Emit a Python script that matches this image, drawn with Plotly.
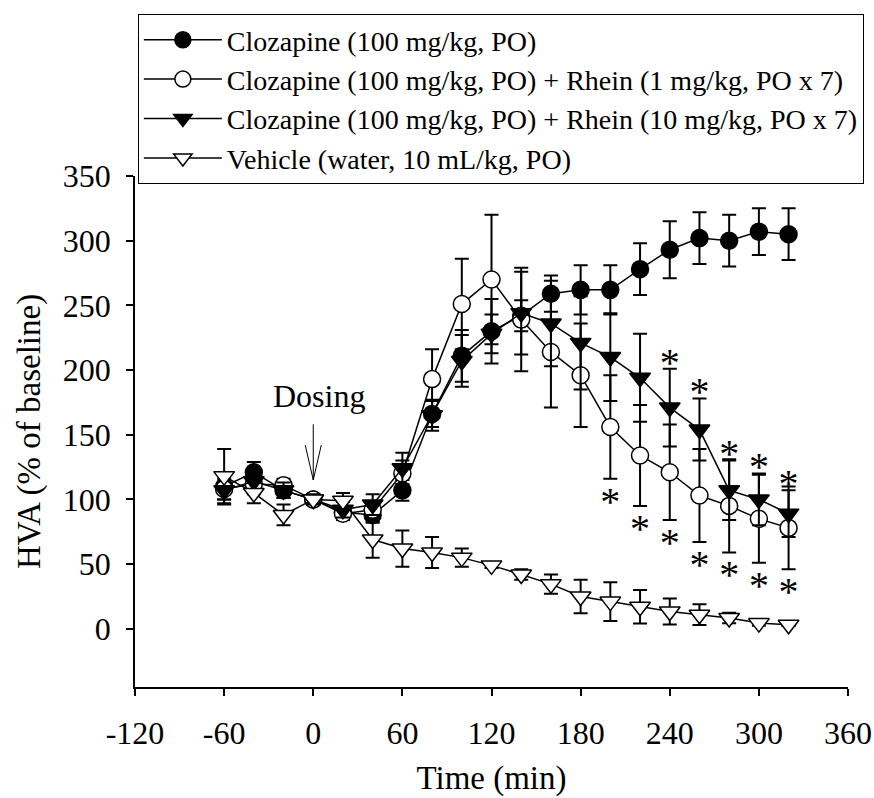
import plotly.graph_objects as go

# ---------------- data ----------------
time_min = [-60, -40, -20, 0, 20, 40, 60, 80, 100, 120, 140, 160, 180, 200, 220, 240, 260, 280, 300, 320]

clz = [110, 121, 107, 100, 90, 88, 107, 166, 211, 230, 242, 259, 262, 262, 278, 293, 302, 300, 307, 305]
clz_err = [10, 8, 6, 4, 5, 6, 8, 10, 20, 25, 12, 14, 19, 19, 20, 22, 20, 20, 18, 20]

rh1 = [108, 112, 111, 100, 89, 92, 120, 193, 251, 270, 239, 214, 196, 156, 134, 121, 103, 95, 85, 78]
rh1_err = [8, 8, 5, 4, 5, 6, 10, 23, 35, 50, 40, 43, 40, 40, 39, 37, 36, 36, 34, 32]

rh10 = [107, 114, 107, 100, 92, 96, 124, 165, 207, 228, 244, 236, 221, 210, 194, 171, 154, 107, 100, 89]
rh10_err = [11, 8, 6, 4, 6, 8, 12, 12, 20, 15, 32, 33, 36, 34, 34, 30, 24, 23, 20, 18]

veh = [118, 105, 88, 100, 99, 69, 62, 59, 55, 49, 42, 34.5, 25, 21, 17, 13.4, 10.9, 8.3, 4.4, 3.1]
veh_err = [21, 8, 8, 3, 6, 14, 14, 12, 7, 2, 4, 7.5, 13, 15, 13, 10, 8, 4, 2, 1]

names = [
    "Clozapine (100 mg/kg, PO)",
    "Clozapine (100 mg/kg, PO) + Rhein (1 mg/kg, PO x 7)",
    "Clozapine (100 mg/kg, PO) + Rhein (10 mg/kg, PO x 7)",
    "Vehicle (water, 10 mL/kg, PO)",
]

# significance stars: above Rhein 10 bars, below Rhein 1 bars
star_up_times = [240, 260, 280, 300, 320]
star_dn_times = [200, 220, 240, 260, 280, 300, 320]

x_ticks = [-120, -60, 0, 60, 120, 180, 240, 300, 360]
x_labels = ["-120", "-60", "0", "60", "120", "180", "240", "300", "360"]
y_ticks = [0, 50, 100, 150, 200, 250, 300, 350]
y_labels = ["0", "50", "100", "150", "200", "250", "300", "350"]

# ---------------- figure ----------------
FONT = "Liberation Serif, Times New Roman, serif"
fig = go.Figure()

styles = [
    dict(symbol="circle", size=17, color="black"),
    dict(symbol="circle", size=17, color="white"),
    dict(symbol="triangle-down", size=18, color="black"),
    dict(symbol="triangle-down", size=18, color="white"),
]
series = [(clz, clz_err), (rh1, rh1_err), (rh10, rh10_err), (veh, veh_err)]

for (vals, errs), st, nm in zip(series, styles, names):
    fig.add_trace(go.Scatter(
        x=time_min, y=vals, name=nm, mode="lines+markers",
        line=dict(color="black", width=1.5),
        marker=dict(symbol=st["symbol"], size=st["size"], color=st["color"],
                    line=dict(color="black", width=1.5)),
        error_y=dict(type="data", array=errs, color="black", thickness=2, width=7),
    ))

idx = {t: i for i, t in enumerate(time_min)}
up_y = [rh10[idx[t]] + rh10_err[idx[t]] + 2.5 for t in star_up_times]
dn_y = [rh1[idx[t]] - rh1_err[idx[t]] - 20 for t in star_dn_times]

for xs, ys in ((star_up_times, up_y), (star_dn_times, dn_y)):
    fig.add_trace(go.Scatter(
        x=xs, y=ys, mode="text", text=["*"] * len(xs), showlegend=False,
        textposition="middle center",
        textfont=dict(family=FONT, size=40, color="black"), hoverinfo="skip",
    ))

# Dosing arrow (open V head)
fig.add_shape(type="line", xref="x", yref="y", x0=0, x1=0, y0=158, y1=115,
              line=dict(color="black", width=1))
fig.add_shape(type="path", xref="x", yref="y", path="M -5.4,142 L 0,115 L 5.4,142",
              line=dict(color="black", width=1))
fig.add_annotation(x=4, y=180, xref="x", yref="y", text="Dosing", showarrow=False,
                   font=dict(family=FONT, size=32, color="black"))

axis_common = dict(
    showline=True, linecolor="black", linewidth=1.5, ticks="outside", ticklen=7,
    tickwidth=1.5, tickcolor="black", showgrid=False, zeroline=False, mirror=False,
    tickfont=dict(family=FONT, size=32, color="black"),
)

fig.update_layout(
    width=874, height=798,
    margin=dict(l=135, r=26, t=176, b=111, autoexpand=False),
    paper_bgcolor="white", plot_bgcolor="white",
    font=dict(family=FONT, color="black"),
    xaxis=dict(range=[-120, 360], tickvals=x_ticks, ticktext=x_labels, ticklabelstandoff=10,
               title=dict(text="Time (min)", font=dict(family=FONT, size=33), standoff=16),
               **axis_common),
    yaxis=dict(range=[-45, 350], tickvals=y_ticks, ticktext=y_labels, ticklabelstandoff=9,
               title=dict(text="HVA (% of baseline)", font=dict(family=FONT, size=33), standoff=12),
               **axis_common),
    legend=dict(x=0.004, y=1.317, xanchor="left", yanchor="top",
                bordercolor="black", borderwidth=1, bgcolor="white",
                font=dict(family=FONT, size=28, color="black"),
                itemwidth=78, tracegroupgap=0),
    showlegend=True,
)

fig.write_html("out.html")
